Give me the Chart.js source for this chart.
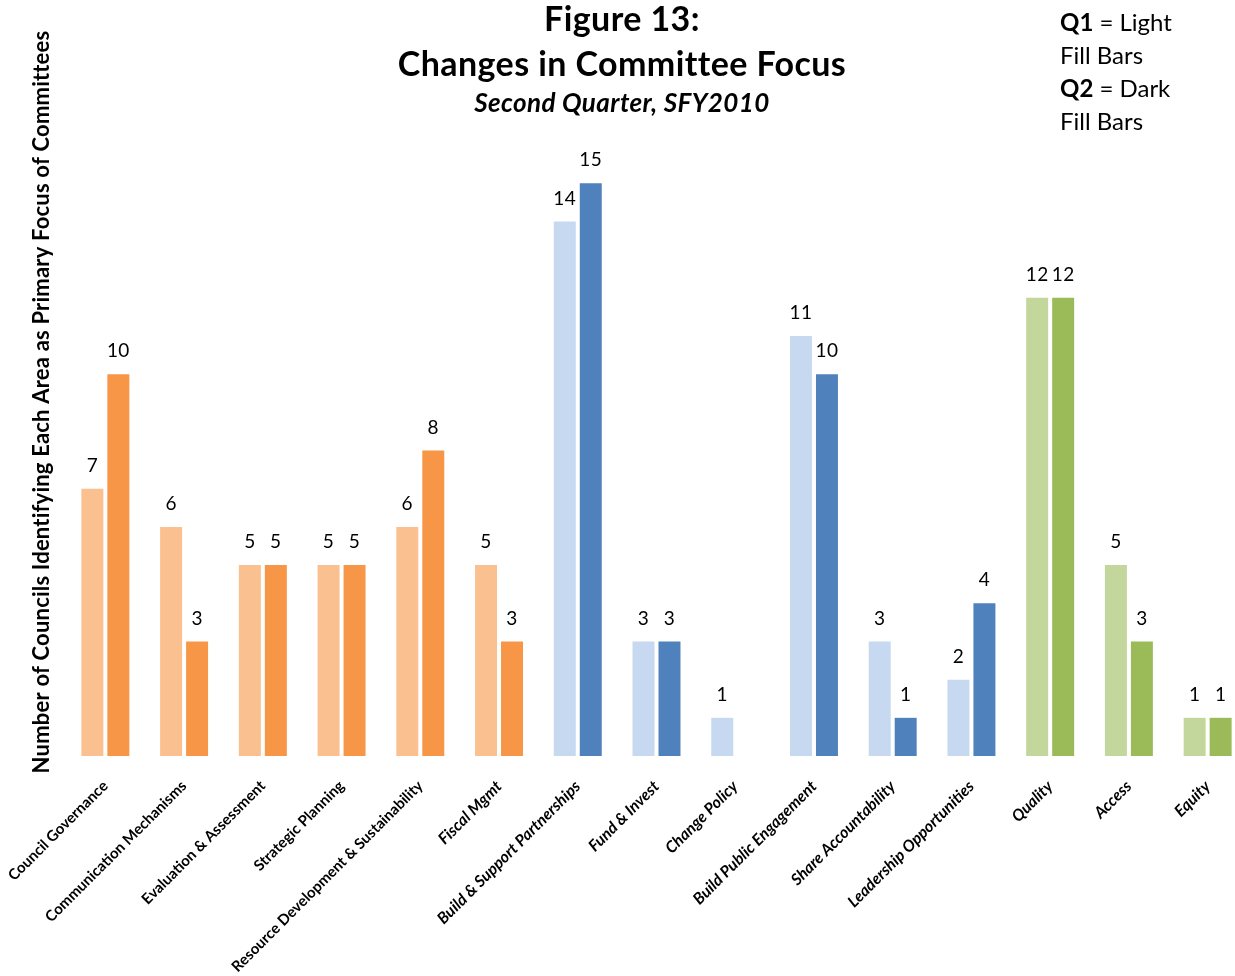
<!DOCTYPE html>
<html>
<head>
<meta charset="utf-8">
<title>Changes in Committee Focus</title>
<script src="https://cdn.jsdelivr.net/npm/chart.js@4"></script>
<style>
  html, body { margin: 0; padding: 0; background: #fff; overflow: hidden; }
  canvas { display: block; }
</style>
</head>
<body>
<canvas id="focusChart" width="1260" height="976"></canvas>
<script>
// committee focus areas, Q1 vs Q2 counts
const categories = [
  "Council Governance",
  "Communication Mechanisms",
  "Evaluation & Assessment",
  "Strategic Planning",
  "Resource Development & Sustainability",
  "Fiscal Mgmt",
  "Build & Support Partnerships",
  "Fund & Invest",
  "Change Policy",
  "Build Public Engagement",
  "Share Accountability",
  "Leadership Opportunities",
  "Quality",
  "Access",
  "Equity"
];
const q1Values = [7, 6, 5, 5, 6, 5, 14, 3, 1, 11, 3, 2, 12, 5, 1];
const q2Values = [10, 3, 5, 5, 8, 3, 15, 3, 0, 10, 1, 4, 12, 3, 1];

// colour groups: orange for the first six, blue for the next six, green for the rest
const lightColors = [];
const darkColors = [];
categories.forEach(function (c, i) {
  if (i < 6) {
    lightColors.push("#FAC090");
    darkColors.push("#F79646");
  } else if (i < 12) {
    lightColors.push("#C6D9F1");
    darkColors.push("#4F81BD");
  } else {
    lightColors.push("#C3D69B");
    darkColors.push("#9BBB59");
  }
});

const FONT = "Lato, 'Open Sans', sans-serif";

// titles, side note, axis title and the numbers over the bars
const textPlugin = {
  id: "figureText",
  afterDatasetsDraw: function (chart) {
    const ctx = chart.ctx;
    ctx.save();
    ctx.fillStyle = "#000";
    ctx.textBaseline = "middle";
    // a little tracking also stops Lato's "tt" ligature
    ctx.letterSpacing = "0.4px";

    // value labels
    ctx.textAlign = "center";
    ctx.font = "19px " + FONT;
    chart.data.datasets.forEach(function (ds, di) {
      const meta = chart.getDatasetMeta(di);
      meta.data.forEach(function (bar, i) {
        const v = ds.data[i];
        if (!v) return;
        ctx.fillText(String(v), bar.x, bar.y - 23);
      });
    });

    // main title
    ctx.font = "bold 34px " + FONT;
    ctx.fillText("Figure 13:", 622, 20);
    ctx.fillText("Changes in Committee Focus", 622, 65);
    ctx.font = "italic bold 26px " + FONT;
    ctx.fillText("Second Quarter, SFY2010", 622, 104);

    // note on the right
    ctx.textAlign = "left";
    ctx.letterSpacing = "0px";
    const note = [
      ["Q1", " = Light"],
      ["", "Fill Bars"],
      ["Q2", " = Dark"],
      ["", "Fill Bars"]
    ];
    note.forEach(function (line, k) {
      const y = 23 + k * 33;
      let x = 1060;
      if (line[0]) {
        ctx.font = "bold 24px " + FONT;
        ctx.fillText(line[0], x, y);
        x += ctx.measureText(line[0]).width;
      }
      ctx.font = "24px " + FONT;
      ctx.fillText(line[1], x, y);
    });

    // y axis title
    ctx.letterSpacing = "0.2px";
    ctx.translate(42, 402);
    ctx.rotate(-Math.PI / 2);
    ctx.textAlign = "center";
    ctx.font = "bold 22px " + FONT;
    ctx.fillText("Number of Councils Identifying Each Area as Primary Focus of Committees", 0, 0);
    ctx.restore();
  }
};

const ctx = document.getElementById("focusChart").getContext("2d");
const focusChart = new Chart(ctx, {
  type: "bar",
  data: {
    labels: categories,
    datasets: [
      {
        label: "Q1",
        data: q1Values,
        backgroundColor: lightColors,
        borderWidth: 0,
        barPercentage: 0.846,
        categoryPercentage: 0.66
      },
      {
        label: "Q2",
        data: q2Values,
        backgroundColor: darkColors,
        borderWidth: 0,
        barPercentage: 0.846,
        categoryPercentage: 0.66
      }
    ]
  },
  options: {
    responsive: false,
    animation: false,
    layout: {
      padding: { top: 145, left: 0, right: 13, bottom: 0 }
    },
    plugins: {
      legend: { display: false },
      title: { display: false },
      tooltip: { enabled: false }
    },
    scales: {
      x: {
        grid: { display: false, drawTicks: false },
        border: { display: false },
        afterFit: function (scale) {
          // fixed band for the slanted labels; keep them from pushing the plot inward
          scale.height = 220;
          scale.paddingLeft = 0;
          scale.paddingRight = 0;
        },
        ticks: {
          autoSkip: false,
          minRotation: 45,
          maxRotation: 45,
          padding: 21,
          color: "#000",
          font: function (c) {
            const italic = c.index >= 5;
            return {
              family: FONT,
              size: italic ? 16 : 15,
              weight: "bold",
              style: italic ? "italic" : "normal"
            };
          }
        }
      },
      y: {
        min: 0,
        max: 16,
        grid: { display: false },
        border: { display: false },
        ticks: { display: false },
        afterFit: function (scale) {
          scale.width = 66;
        }
      }
    }
  },
  plugins: [textPlugin]
});
</script>
</body>
</html>
